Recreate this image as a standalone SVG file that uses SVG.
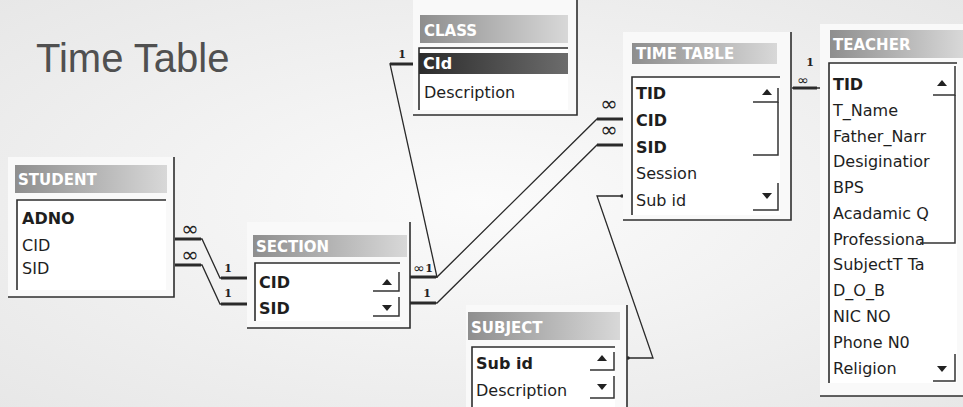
<svg xmlns="http://www.w3.org/2000/svg" width="963" height="407" viewBox="0 0 963 407">
<defs>
<linearGradient id="tb" x1="0" x2="1" y1="0" y2="0"><stop offset="0" stop-color="#8e8e8e"/><stop offset="1" stop-color="#d8d8d8"/></linearGradient>
<linearGradient id="sel" x1="0" x2="1" y1="0" y2="0"><stop offset="0" stop-color="#2c2c2c"/><stop offset="1" stop-color="#6c6c6c"/></linearGradient>
<radialGradient id="bg" cx="0.5" cy="0.5" r="0.75"><stop offset="0" stop-color="#fbfbfb"/><stop offset="1" stop-color="#e6e6e6"/></radialGradient>
</defs>
<style>
.win{fill:#f9f9f9}
.fbox{fill:#ffffff}
.edge{fill:none;stroke:#2e2e2e;stroke-width:1.6}
.title{fill:url(#tb)}
.tt{font-family:"DejaVu Sans",sans-serif;font-weight:bold;font-size:15px;fill:#ffffff}
.f{font-family:"DejaVu Sans",sans-serif;font-size:16px;fill:#1e1e1e}
.k{font-weight:bold}
.arr{fill:#222222}
.sb{fill:none;stroke:#333333;stroke-width:1.5}
.thin{fill:none;stroke:#2a2a2a;stroke-width:1.3}
.stub{fill:none;stroke:#2a2a2a;stroke-width:3}
.dot{fill:#2a2a2a}
.lbl{font-family:"DejaVu Serif",serif;font-weight:bold;font-size:11px;fill:#222222;text-anchor:middle}
.inf{font-family:"DejaVu Sans",sans-serif;font-size:21px;fill:#222222;text-anchor:middle}
.head{font-family:"Liberation Sans",Arial,sans-serif;font-size:40px;fill:#505050}
</style>
<rect x="0" y="0" width="963" height="407" fill="url(#bg)"/>
<text class="head" x="36" y="72">Time Table</text>

<g id="connectors">
  <!-- STUDENT.CID - SECTION.CID -->
  <polyline class="thin" points="175,239 202,239 220,278 248,278"/>
  <line class="stub" x1="175" y1="239" x2="201" y2="239"/>
  <line class="stub" x1="221" y1="278" x2="248" y2="278"/>
  <text class="inf" x="190" y="236">∞</text>
  <text class="lbl" x="228" y="272">1</text>
  <!-- STUDENT.SID - SECTION.SID -->
  <polyline class="thin" points="175,265 202,265 220,304 248,304"/>
  <line class="stub" x1="175" y1="265" x2="201" y2="265"/>
  <line class="stub" x1="221" y1="304" x2="248" y2="304"/>
  <text class="inf" x="190" y="262">∞</text>
  <text class="lbl" x="228" y="297">1</text>
  <!-- CLASS.CId - SECTION.CID -->
  <polyline class="thin" points="416,64 390,64 437,277 410,277"/>
  <line class="stub" x1="390" y1="64" x2="416" y2="64"/>
  <text class="lbl" x="402" y="58">1</text>
  <!-- SECTION.CID - TIMETABLE.CID -->
  <polyline class="thin" points="410,277 437,277 597,119 623,119"/>
  <line class="stub" x1="410" y1="277" x2="436" y2="277"/>
  <line class="stub" x1="597" y1="119" x2="623" y2="119"/>
  <text class="inf" x="419" y="273" style="font-size:14px">∞</text>
  <text class="lbl" x="429" y="272">1</text>
  <text class="inf" x="609" y="111">∞</text>
  <!-- SECTION.SID - TIMETABLE.SID -->
  <polyline class="thin" points="410,303 437,303 597,145 623,145"/>
  <line class="stub" x1="410" y1="303" x2="436" y2="303"/>
  <line class="stub" x1="597" y1="145" x2="623" y2="145"/>
  <text class="lbl" x="427" y="297">1</text>
  <text class="inf" x="609" y="137">∞</text>
  <!-- TIMETABLE.TID - TEACHER.TID -->
  <line class="thin" x1="792" y1="88" x2="829" y2="88"/>
  <line class="stub" x1="793" y1="88" x2="817" y2="88"/>
  <text class="lbl" x="810" y="66">1</text>
  <text class="inf" x="803" y="85" style="font-size:14px">∞</text>
  <!-- TIMETABLE.Sub id - SUBJECT.Sub id -->
  <polyline class="thin" points="622,196 597,196 653,358 628,358"/>
  <circle class="dot" cx="622" cy="196" r="1.8"/>
  <circle class="dot" cx="628" cy="358" r="1.8"/>
</g>

<g id="student">
  <rect class="win" x="8" y="157" width="166" height="140"/>
  <rect class="title" x="15" y="165" width="152" height="28"/>
  <text class="tt" x="18" y="185">STUDENT</text>
  <rect class="fbox" x="17" y="200" width="149" height="90"/>
  <path class="edge" d="M17,290 V200 H166"/>
  <path class="edge" d="M174,157 V297 H8"/>
  <text class="f k" x="22" y="224">ADNO</text>
  <text class="f" x="22" y="251">CID</text>
  <text class="f" x="22" y="274">SID</text>
</g>

<g id="section">
  <rect class="win" x="247" y="222" width="163" height="106"/>
  <rect class="title" x="253" y="235" width="154" height="22"/>
  <text class="tt" x="256" y="252">SECTION</text>
  <rect class="fbox" x="255" y="263" width="145" height="58"/>
  <path class="edge" d="M255,321 V263 H400"/>
  <path class="edge" d="M410,222 V328 H247"/>
  <text class="f k" x="259" y="288">CID</text>
  <text class="f k" x="259" y="314">SID</text>
  <path class="arr" d="M382,285 L392,285 L387,279 Z"/>
  <path class="sb" d="M373,291 H399 V272"/>
  <path class="arr" d="M382,305 L392,305 L387,311 Z"/>
  <path class="sb" d="M373,316 H399 V297"/>
</g>

<g id="class">
  <rect class="win" x="413" y="0" width="164" height="115"/>
  <rect class="title" x="420" y="15" width="148" height="28"/>
  <text class="tt" x="424" y="36">CLASS</text>
  <rect class="fbox" x="419" y="48" width="149" height="62"/>
  <rect x="419" y="53" width="149" height="21" fill="url(#sel)"/>
  <path class="edge" d="M419,110 V48 H568"/>
  <path class="edge" d="M577,0 V115 H413"/>
  <text class="f k" x="423" y="69" style="fill:#ffffff">CId</text>
  <text class="f" x="424" y="98">Description</text>
</g>

<g id="timetable">
  <rect class="win" x="623" y="32" width="168" height="188"/>
  <rect class="title" x="632" y="43" width="145" height="21"/>
  <text class="tt" x="636" y="59">TIME TABLE</text>
  <rect class="fbox" x="632" y="77" width="148" height="138"/>
  <path class="edge" d="M632,215 V77 H780"/>
  <path class="edge" d="M791,32 V220 H623"/>
  <text class="f k" x="636" y="99">TID</text>
  <text class="f k" x="636" y="126">CID</text>
  <text class="f k" x="636" y="153">SID</text>
  <text class="f" x="636" y="179">Session</text>
  <text class="f" x="636" y="206">Sub id</text>
  <path class="arr" d="M762,95 L772,95 L767,89 Z"/>
  <path class="sb" d="M753,102 H778 V88"/>
  <path class="sb" d="M753,155 H778 V102"/>
  <path class="arr" d="M762,193 L772,193 L767,199 Z"/>
  <path class="sb" d="M753,210 H778 V183"/>
</g>

<g id="teacher">
  <rect class="win" x="820" y="24" width="143" height="372"/>
  <rect class="title" x="830" y="30" width="133" height="28"/>
  <text class="tt" x="833" y="50">TEACHER</text>
  <rect class="fbox" x="829" y="63" width="128" height="320"/>
  <path class="edge" d="M829,383 V63 H957"/>
  <path class="edge" d="M820,396 H963"/>
  <text class="f k" x="833" y="90">TID</text>
  <text class="f" x="833" y="116">T_Name</text>
  <text class="f" x="833" y="142">Father_Narr</text>
  <text class="f" x="833" y="167">Desiginatior</text>
  <text class="f" x="833" y="193">BPS</text>
  <text class="f" x="833" y="219">Acadamic Q</text>
  <text class="f" x="833" y="245">Professiona</text>
  <text class="f" x="833" y="270">SubjectT Ta</text>
  <text class="f" x="833" y="296">D_O_B</text>
  <text class="f" x="833" y="322">NIC NO</text>
  <text class="f" x="833" y="348">Phone N0</text>
  <text class="f" x="833" y="374">Religion</text>
  <path class="arr" d="M937,86 L947,86 L942,80 Z"/>
  <path class="sb" d="M933,95 H955 V66"/>
  <path class="sb" d="M920,243 H955 V95"/>
  <path class="arr" d="M937,366 L947,366 L942,372 Z"/>
  <path class="sb" d="M933,381 H955 V354"/>
</g>

<g id="subject">
  <rect class="win" x="466" y="305" width="161" height="102"/>
  <rect class="title" x="468" y="312" width="152" height="28"/>
  <text class="tt" x="471" y="333">SUBJECT</text>
  <rect class="fbox" x="472" y="347" width="143" height="60"/>
  <path class="edge" d="M472,407 V347 H615"/>
  <path class="edge" d="M627,305 V407"/>
  <text class="f k" x="476" y="369">Sub id</text>
  <text class="f" x="476" y="396">Description</text>
  <path class="arr" d="M597,361 L607,361 L602,355 Z"/>
  <path class="sb" d="M590,370 H614 V352"/>
  <path class="arr" d="M597,384 L607,384 L602,390 Z"/>
  <path class="sb" d="M590,398 H614 V376"/>
</g>
</svg>
